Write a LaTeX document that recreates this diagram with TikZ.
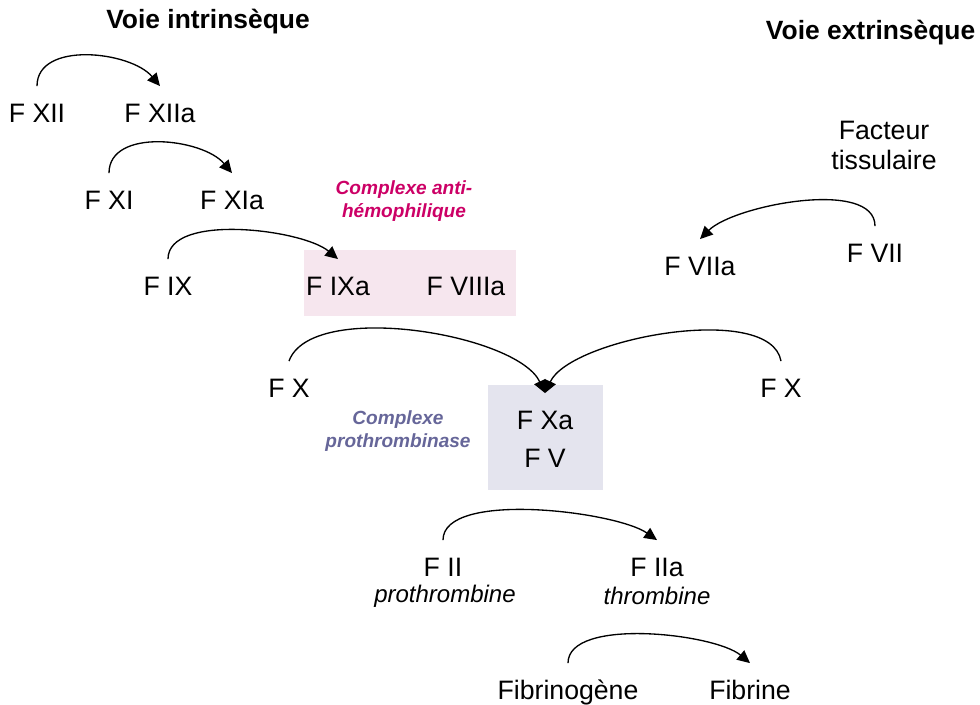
\documentclass[tikz,border=0pt]{standalone}
\usepackage{fontspec}
\setmainfont{Liberation Sans}
\usetikzlibrary{positioning,arrows.meta}
\definecolor{rosecplx}{RGB}{246,230,238}
\definecolor{griscplx}{RGB}{228,228,238}
\definecolor{magcplx}{RGB}{204,0,102}
\definecolor{violcplx}{RGB}{102,102,153}
\tikzstyle{texte}=[font=\fontsize{20}{22.5}\selectfont]
\tikzstyle{fac}=[texte, inner xsep=3pt, inner ysep=12.5pt, text height=14.5pt, text depth=0.5pt]
\tikzstyle{titre}=[font=\fontsize{19.8}{22}\selectfont\bfseries]
\tikzstyle{cplx}=[font=\fontsize{14.3}{17.5}\selectfont\bfseries\itshape, align=center]
\tikzstyle{nom}=[font=\fontsize{18}{20}\selectfont\itshape, inner sep=1pt]
\tikzstyle{fleche}=[-{Triangle[length=9.5pt,width=9pt]}, line width=1pt]
\begin{document}
\begin{tikzpicture}[x=0.75pt, y=-0.75pt]
\useasboundingbox (0,0) rectangle (980,704);
% titres
\node (VI) [titre] at (208,22) {Voie intrins\`eque};
\node (VE) [titre, anchor=east] at (980,33) {Voie extrins\`eque};
% voie intrinseque
\node (FXII) [fac] at (37,113) {F XII};
\node (FXIIa) [fac] at (160,113) {F XIIa};
\node (FXI) [fac] at (109,200) {F XI};
\node (FXIa) [fac] at (232,200) {F XIa};
\node (FIX) [fac] at (168,286) {F IX};
\node (AH) [fill=rosecplx, minimum width=159pt, minimum height=49.5pt] at (410,283) {};
\node (FIXa) [fac] at (338,286) {F IXa};
\node (FVIIIa) [fac] at (466,286) {F VIIIa};
\node (AHlab) [cplx, text=magcplx] at (404,201) {Complexe anti-\\h\'emophilique};
% voie extrinseque
\node (FT) [texte, align=center] at (884,145) {Facteur\\tissulaire};
\node (FVII) [fac] at (875,253) {F VII};
\node (FVIIa) [fac] at (700,266) {F VIIa};
% voie commune
\node (FXg) [fac] at (289,388) {F X};
\node (FXd) [fac] at (781,388) {F X};
\node (PT) [fill=griscplx, minimum width=86pt, minimum height=79pt] at (545.5,437.5) {};
\node (FXa) [fac] at (545,420) {F Xa};
\node (FV) [fac] at (545,458) {F V};
\node (PTlab) [cplx, text=violcplx] at (398,431) {Complexe\\prothrombinase};
\node (FII) [fac] at (443,567) {F II};
\node (proth) [nom] at (445,596) {prothrombine};
\node (FIIa) [fac] at (657,567) {F IIa};
\node (thromb) [nom] at (657,596) {thrombine};
\node (FBG) [fac] at (568,690) {Fibrinog\`ene};
\node (FB) [fac] at (750,690) {Fibrine};
% activations
\draw[fleche] (FXII.north) to[out=90, in=130, looseness=0.95] (FXIIa.north);
\draw[fleche] (FXI.north) to[out=90, in=130, looseness=0.95] (FXIa.north);
\draw[fleche] (FIX.north) to[out=90, in=140, looseness=0.7] (FIXa.north);
\draw[fleche] (FVII.north) to[out=90, in=45, looseness=0.7] (FVIIa.north);
\draw[fleche] (FXg.north) to[out=70, in=115, looseness=0.65] (FXa.north);
\draw[fleche] (FXd.north) to[out=100, in=65, looseness=0.65] (FXa.north);
\draw[fleche] (FII.north) to[out=90, in=145, looseness=0.6] (FIIa.north);
\draw[fleche] (FBG.north) to[out=90, in=140, looseness=0.65] (FB.north);
\end{tikzpicture}
\end{document}
